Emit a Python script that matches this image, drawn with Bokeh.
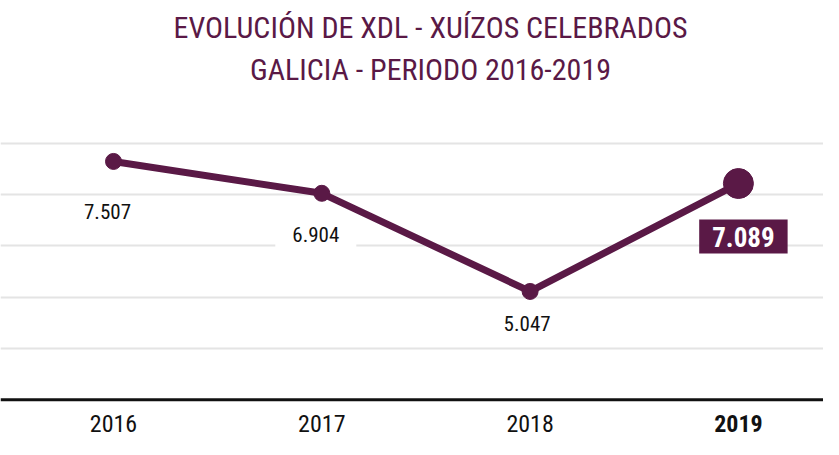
from bokeh.plotting import figure
from bokeh.models import Range1d, Span, FixedTicker, Label
from bokeh.core.properties import value
from bokeh.embed import file_html
from bokeh.resources import INLINE

# ---- data ----
years = [2016, 2017, 2018, 2019]
year_labels = ["2016", "2017", "2018", "2019"]
celebrated = [7507, 6904, 5047, 7089]
grid_values = [3970, 4940, 5910, 6880, 7850]
baseline_value = 3000
title_lines = ["EVOLUCIÓN DE XDL - XUÍZOS CELEBRADOS", "GALICIA - PERIODO 2016-2019"]

value_labels = [f"{v:,}".replace(",", ".") for v in celebrated]

# ---- style ----
PURPLE = "#5a1946"
FONT = "Roboto Condensed, DejaVu Sans Condensed, Roboto"
label_dy = [50, 41, 32, 53]
label_dx = [-6, -6, -3, 5]

p = figure(width=823, height=439, output_backend="svg", toolbar_location=None,
           x_range=Range1d(2015.4575, 2019.4085), y_range=Range1d(2246, 10552),
           x_axis_location=None, y_axis_location=None, min_border=0,
           outline_line_color=None, background_fill_color="white",
           border_fill_color="white")

p.xgrid.visible = False
p.ygrid.ticker = FixedTicker(ticks=grid_values)
p.ygrid.grid_line_color = "#e4e4e4"
p.ygrid.grid_line_width = 2

p.add_layout(Span(location=baseline_value, dimension="width",
                  line_color="#111111", line_width=3))

p.line(years, celebrated, line_color=PURPLE, line_width=7, line_join="round")
p.scatter(years[:3], celebrated[:3], size=16, color=PURPLE)
p.scatter(years[3:], celebrated[3:], size=30, color=PURPLE)

p.text(x=years[:3], y=celebrated[:3], text=value_labels[:3],
       x_offset=label_dx[:3], y_offset=label_dy[:3],
       text_align="center", text_baseline="middle",
       text_font=value(FONT), text_font_size="21px", text_color="#111111",
       background_fill_color="white", padding=(17, 7))

p.text(x=years[3:], y=celebrated[3:], text=value_labels[3:],
       x_offset=label_dx[3:], y_offset=label_dy[3:],
       text_align="center", text_baseline="middle",
       text_font=value(FONT), text_font_size="27px", text_font_style="bold",
       text_color="white", background_fill_color=PURPLE, padding=(13, 7))

p.text(x=years[:3], y=[baseline_value] * 3, text=year_labels[:3],
       y_offset=24, text_align="center", text_baseline="middle",
       text_font=value(FONT), text_font_size="24px", text_color="#111111")
p.text(x=years[3:], y=[baseline_value], text=year_labels[3:],
       y_offset=24, text_align="center", text_baseline="middle",
       text_font=value(FONT), text_font_size="24px", text_font_style="bold",
       text_color="#111111")

for i, line in enumerate(title_lines):
    p.add_layout(Label(x=430, y=439 - 27 - 42 * i, x_units="screen", y_units="screen",
                       text=line, text_align="center", text_baseline="middle",
                       text_font=FONT, text_font_size="30px", text_color=PURPLE))

open("out.html", "w").write(file_html(p, INLINE))
